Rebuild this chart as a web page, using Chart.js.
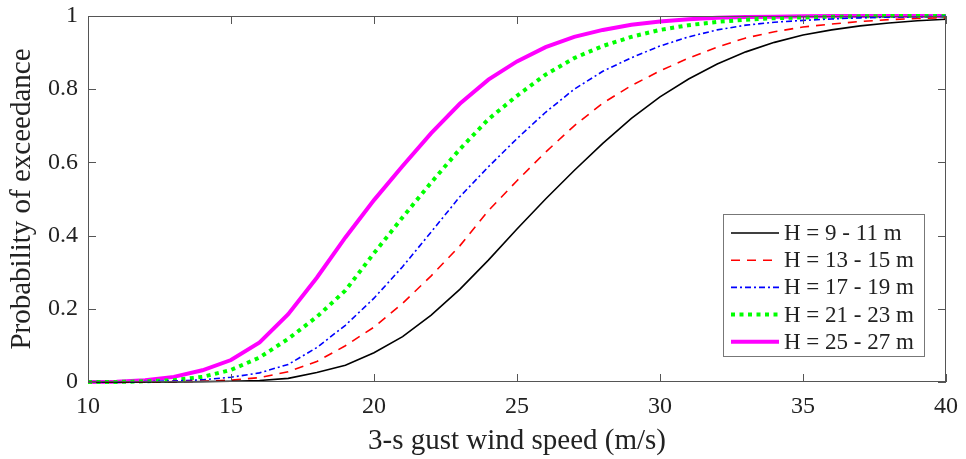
<!DOCTYPE html>
<html>
<head>
<meta charset="utf-8">
<script src="https://cdn.jsdelivr.net/npm/chart.js@4.4.1/dist/chart.umd.min.js"></script>
<style>
  html, body { margin: 0; padding: 0; background: #fff; }
  #wrap { width: 966px; height: 459px; }
</style>
</head>
<body>
<div id="wrap"><canvas id="cdfChart"></canvas></div>
<script>
// gust wind speed (m/s)
const speeds = [10, 11, 12, 13, 14, 15, 16, 17, 18, 19, 20, 21, 22, 23, 24, 25,
                26, 27, 28, 29, 30, 31, 32, 33, 34, 35, 36, 37, 38, 39, 40];

// probability of exceedance
const h9to11  = [0, 0, 0, 0, 0.001, 0.002, 0.004, 0.01, 0.026, 0.046, 0.08, 0.124, 0.183, 0.253, 0.333,
                 0.418, 0.5, 0.578, 0.652, 0.72, 0.779, 0.828, 0.869, 0.902, 0.928, 0.948,
                 0.962, 0.973, 0.981, 0.987, 0.991];
const h13to15 = [0, 0, 0, 0.001, 0.002, 0.005, 0.012, 0.028, 0.056, 0.099, 0.15, 0.215, 0.29, 0.372, 0.468,
                 0.55, 0.628, 0.7, 0.762, 0.81, 0.85, 0.885, 0.915, 0.94, 0.957, 0.97,
                 0.978, 0.985, 0.99, 0.993, 0.995];
const h17to19 = [0, 0, 0.001, 0.003, 0.006, 0.013, 0.025, 0.048, 0.094, 0.155, 0.229, 0.315, 0.41, 0.506, 0.588,
                 0.665, 0.737, 0.8, 0.849, 0.886, 0.918, 0.943, 0.962, 0.975, 0.983, 0.988,
                 0.992, 0.995, 0.997, 0.998, 0.999];
const h21to23 = [0, 0, 0.002, 0.005, 0.014, 0.033, 0.067, 0.118, 0.178, 0.25, 0.352, 0.45, 0.545, 0.636, 0.718,
                 0.782, 0.84, 0.885, 0.918, 0.943, 0.962, 0.975, 0.984, 0.99, 0.994, 0.996,
                 0.998, 0.999, 1, 1, 1];
const h25to27 = [0, 0.001, 0.005, 0.014, 0.032, 0.06, 0.108, 0.185, 0.285, 0.395, 0.497, 0.59, 0.68, 0.76, 0.826,
                 0.876, 0.915, 0.943, 0.962, 0.976, 0.985, 0.991, 0.995, 0.997, 0.998, 0.999,
                 1, 1, 1, 1, 1];

const seriesNames = ['H = 9 - 11 m', 'H = 13 - 15 m', 'H = 17 - 19 m', 'H = 21 - 23 m', 'H = 25 - 27 m'];
const xTicks = [10, 15, 20, 25, 30, 35, 40];
const yTicks = [0, 0.2, 0.4, 0.6, 0.8, 1];

const serif = '"Liberation Serif", "Times New Roman", serif';
const textColor = '#222';

function toPoints(arr) {
  return speeds.map((s, i) => ({ x: s, y: arr[i] }));
}

const datasets = [
  { label: seriesNames[0], data: toPoints(h9to11),  borderColor: '#000000', borderWidth: 1.6, borderDash: [] },
  { label: seriesNames[1], data: toPoints(h13to15), borderColor: '#ff0000', borderWidth: 1.6, borderDash: [9, 7] },
  { label: seriesNames[2], data: toPoints(h17to19), borderColor: '#0000ff', borderWidth: 1.6, borderDash: [6, 3, 2, 3] },
  { label: seriesNames[3], data: toPoints(h21to23), borderColor: '#00ff00', borderWidth: 4,   borderDash: [4, 4.5] },
  { label: seriesNames[4], data: toPoints(h25to27), borderColor: '#ff00ff', borderWidth: 4,   borderDash: [] }
].map(d => Object.assign(d, { pointRadius: 0, tension: 0, fill: false, clip: 4, borderCapStyle: 'butt' }));

// box, inward ticks and legend, drawn like a matlab figure
const matlabFrame = {
  id: 'matlabFrame',
  afterDatasetsDraw(chart) {
    const ctx = chart.ctx;
    const a = chart.chartArea;
    const xs = chart.scales.x, ys = chart.scales.y;
    ctx.save();
    ctx.strokeStyle = '#555';
    ctx.lineWidth = 1;
    ctx.strokeRect(a.left + 0.5, a.top + 0.5, a.right - a.left - 1, a.bottom - a.top - 1);
    ctx.beginPath();
    const tl = 8;
    xTicks.forEach(v => {
      const px = Math.round(xs.getPixelForValue(v)) + 0.5;
      ctx.moveTo(px, a.bottom); ctx.lineTo(px, a.bottom - tl);
      ctx.moveTo(px, a.top); ctx.lineTo(px, a.top + tl);
    });
    yTicks.forEach(v => {
      const py = Math.round(ys.getPixelForValue(v)) + 0.5;
      ctx.moveTo(a.left, py); ctx.lineTo(a.left + tl, py);
      ctx.moveTo(a.right, py); ctx.lineTo(a.right - tl, py);
    });
    ctx.stroke();

    // legend in the lower right corner
    const bx = 723, by = 214, bw = 201, bh = 142;
    ctx.fillStyle = '#fff';
    ctx.fillRect(bx, by, bw, bh);
    ctx.strokeStyle = '#777';
    ctx.strokeRect(bx + 0.5, by + 0.5, bw, bh);
    ctx.font = '23px ' + serif;
    ctx.textBaseline = 'middle';
    ctx.textAlign = 'left';
    chart.data.datasets.forEach((d, i) => {
      const ry = by + 19 + i * 27.2;
      ctx.beginPath();
      ctx.strokeStyle = d.borderColor;
      ctx.lineWidth = d.borderWidth;
      ctx.setLineDash(d.borderDash);
      ctx.moveTo(731, ry); ctx.lineTo(779, ry);
      ctx.stroke();
      ctx.setLineDash([]);
      ctx.fillStyle = textColor;
      ctx.fillText(d.label, 784, ry + 1);
    });
    ctx.restore();
  }
};

const ctx = document.getElementById('cdfChart').getContext('2d');
new Chart(ctx, {
  type: 'line',
  data: { datasets: datasets },
  options: {
    responsive: true,
    maintainAspectRatio: false,
    animation: false,
    layout: { padding: { top: 16, right: 20, left: 0, bottom: 0 } },
    plugins: { legend: { display: false }, tooltip: { enabled: false } },
    scales: {
      x: {
        type: 'linear', min: 10, max: 40,
        afterBuildTicks: s => { s.ticks = xTicks.map(v => ({ value: v })); },
        afterFit: s => { s.height = 77; s.paddingLeft = 0; s.paddingRight = 0; },
        grid: { display: false, drawTicks: false },
        border: { display: false },
        ticks: { padding: 10, color: textColor, font: { family: serif, size: 24 } },
        title: { display: true, text: '3-s gust wind speed (m/s)', color: textColor,
                 font: { family: serif, size: 29 }, padding: { top: 0, bottom: 0 } }
      },
      y: {
        type: 'linear', min: 0, max: 1,
        afterBuildTicks: s => { s.ticks = yTicks.map(v => ({ value: v })); },
        afterFit: s => { s.width = 88; s.paddingTop = 0; s.paddingBottom = 0; },
        grid: { display: false, drawTicks: false },
        border: { display: false },
        ticks: { padding: 10, color: textColor, font: { family: serif, size: 24 },
                 callback: v => String(v) },
        title: { display: true, text: 'Probability of exceedance', color: textColor,
                 font: { family: serif, size: 29 }, padding: { top: 5, bottom: 0 } }
      }
    }
  },
  plugins: [matlabFrame]
});
</script>
</body>
</html>
